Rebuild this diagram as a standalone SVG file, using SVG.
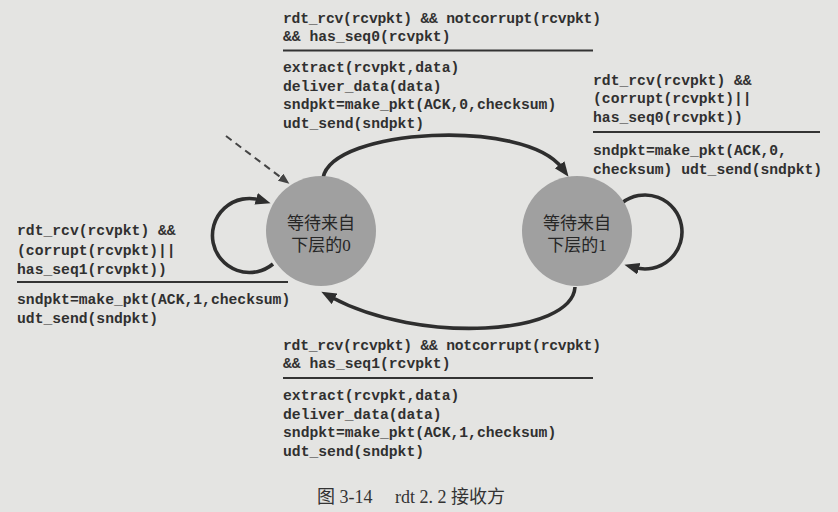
<svg xmlns="http://www.w3.org/2000/svg" width="838" height="512" viewBox="0 0 838 512">
  <style>
    .code { font-family: "Liberation Mono", "DejaVu Sans Mono", monospace; font-weight: bold; font-size: 14.7px; fill: #303030; }
    .state { fill: #a0a0a0; }
    .state-text { font-family: "Liberation Serif", "Noto Sans CJK SC", serif; font-size: 17px; fill: #262626; text-anchor: middle; }
    .rule { stroke: #333; stroke-width: 2; }
    .edge { fill: none; stroke: #2e2e2e; stroke-width: 3.6; }
    .init { fill: none; stroke: #444; stroke-width: 2; stroke-dasharray: 7 5; }
    .caption { font-family: "Liberation Serif", "Noto Sans CJK SC", serif; font-size: 18px; fill: #333; }
  </style>
  <defs>
    <marker id="arrow" markerUnits="userSpaceOnUse" markerWidth="16" markerHeight="13" refX="4" refY="6" orient="auto">
      <path d="M0,0 L15,6 L0,12 z" fill="#2e2e2e"/>
    </marker>
    <marker id="arrow-small" markerUnits="userSpaceOnUse" markerWidth="12" markerHeight="10" refX="3" refY="4.5" orient="auto">
      <path d="M0,0 L11,4.5 L0,9 z" fill="#444"/>
    </marker>
  </defs>

  <!-- paper -->
  <rect x="0" y="0" width="838" height="512" fill="#e4e4e2"/>

  <!-- transitions -->
  <g id="connectors">
    <path class="init" d="M226,136 L283,179" marker-end="url(#arrow-small)"/>
    <path class="edge" d="M323,178 C332,128 525,118 562,168" marker-end="url(#arrow)"/>
    <path class="edge" d="M575,287 C572,335 420,345 331,297" marker-end="url(#arrow)"/>
    <path class="edge" d="M273,264 A37,37 0 1 1 260,200" marker-end="url(#arrow)"/>
    <path class="edge" d="M622.5,202.6 A37,37 0 1 1 635,267.6" marker-end="url(#arrow)"/>
  </g>

  <!-- states -->
  <g id="node-wait0">
    <circle class="state" cx="321" cy="231" r="55"/>
    <text class="state-text" x="321" y="229">等待来自</text>
    <text class="state-text" x="321" y="251">下层的0</text>
  </g>
  <g id="node-wait1">
    <circle class="state" cx="577" cy="231" r="55"/>
    <text class="state-text" x="577" y="229">等待来自</text>
    <text class="state-text" x="577" y="251">下层的1</text>
  </g>

  <!-- transition labels: event above the rule, actions below -->
  <g id="label-0-to-1">
    <text class="code" x="283" y="22.5" textLength="318">rdt_rcv(rcvpkt) &amp;&amp; notcorrupt(rcvpkt)</text>
    <text class="code" x="283" y="41">&amp;&amp; has_seq0(rcvpkt)</text>
    <line class="rule" x1="283" y1="50.5" x2="593" y2="50.5"/>
    <text class="code" x="283" y="72">extract(rcvpkt,data)</text>
    <text class="code" x="283" y="90.5">deliver_data(data)</text>
    <text class="code" x="283" y="109">sndpkt=make_pkt(ACK,0,checksum)</text>
    <text class="code" x="283" y="127.5">udt_send(sndpkt)</text>
  </g>

  <g id="label-1-self">
    <text class="code" x="593" y="84.5">rdt_rcv(rcvpkt) &amp;&amp;</text>
    <text class="code" x="593" y="103">(corrupt(rcvpkt)||</text>
    <text class="code" x="593" y="121.5">has_seq0(rcvpkt))</text>
    <line class="rule" x1="593" y1="132" x2="820" y2="132"/>
    <text class="code" x="593" y="155">sndpkt=make_pkt(ACK,0,</text>
    <text class="code" x="593" y="173.5">checksum) udt_send(sndpkt)</text>
  </g>

  <g id="label-0-self">
    <text class="code" x="17" y="235">rdt_rcv(rcvpkt) &amp;&amp;</text>
    <text class="code" x="17" y="254.5">(corrupt(rcvpkt)||</text>
    <text class="code" x="17" y="274">has_seq1(rcvpkt))</text>
    <line class="rule" x1="17" y1="282" x2="288" y2="282"/>
    <text class="code" x="17" y="304">sndpkt=make_pkt(ACK,1,checksum)</text>
    <text class="code" x="17" y="322.5">udt_send(sndpkt)</text>
  </g>

  <g id="label-1-to-0">
    <text class="code" x="283" y="349.5" textLength="318">rdt_rcv(rcvpkt) &amp;&amp; notcorrupt(rcvpkt)</text>
    <text class="code" x="283" y="368">&amp;&amp; has_seq1(rcvpkt)</text>
    <line class="rule" x1="283" y1="378" x2="593" y2="378"/>
    <text class="code" x="283" y="399.5">extract(rcvpkt,data)</text>
    <text class="code" x="283" y="418.5">deliver_data(data)</text>
    <text class="code" x="283" y="437">sndpkt=make_pkt(ACK,1,checksum)</text>
    <text class="code" x="283" y="456">udt_send(sndpkt)</text>
  </g>

  <!-- figure caption -->
  <g id="caption">
    <text class="caption" x="317" y="503">图 3-14</text>
    <text class="caption" x="395" y="503">rdt 2. 2 接收方</text>
  </g>
</svg>
